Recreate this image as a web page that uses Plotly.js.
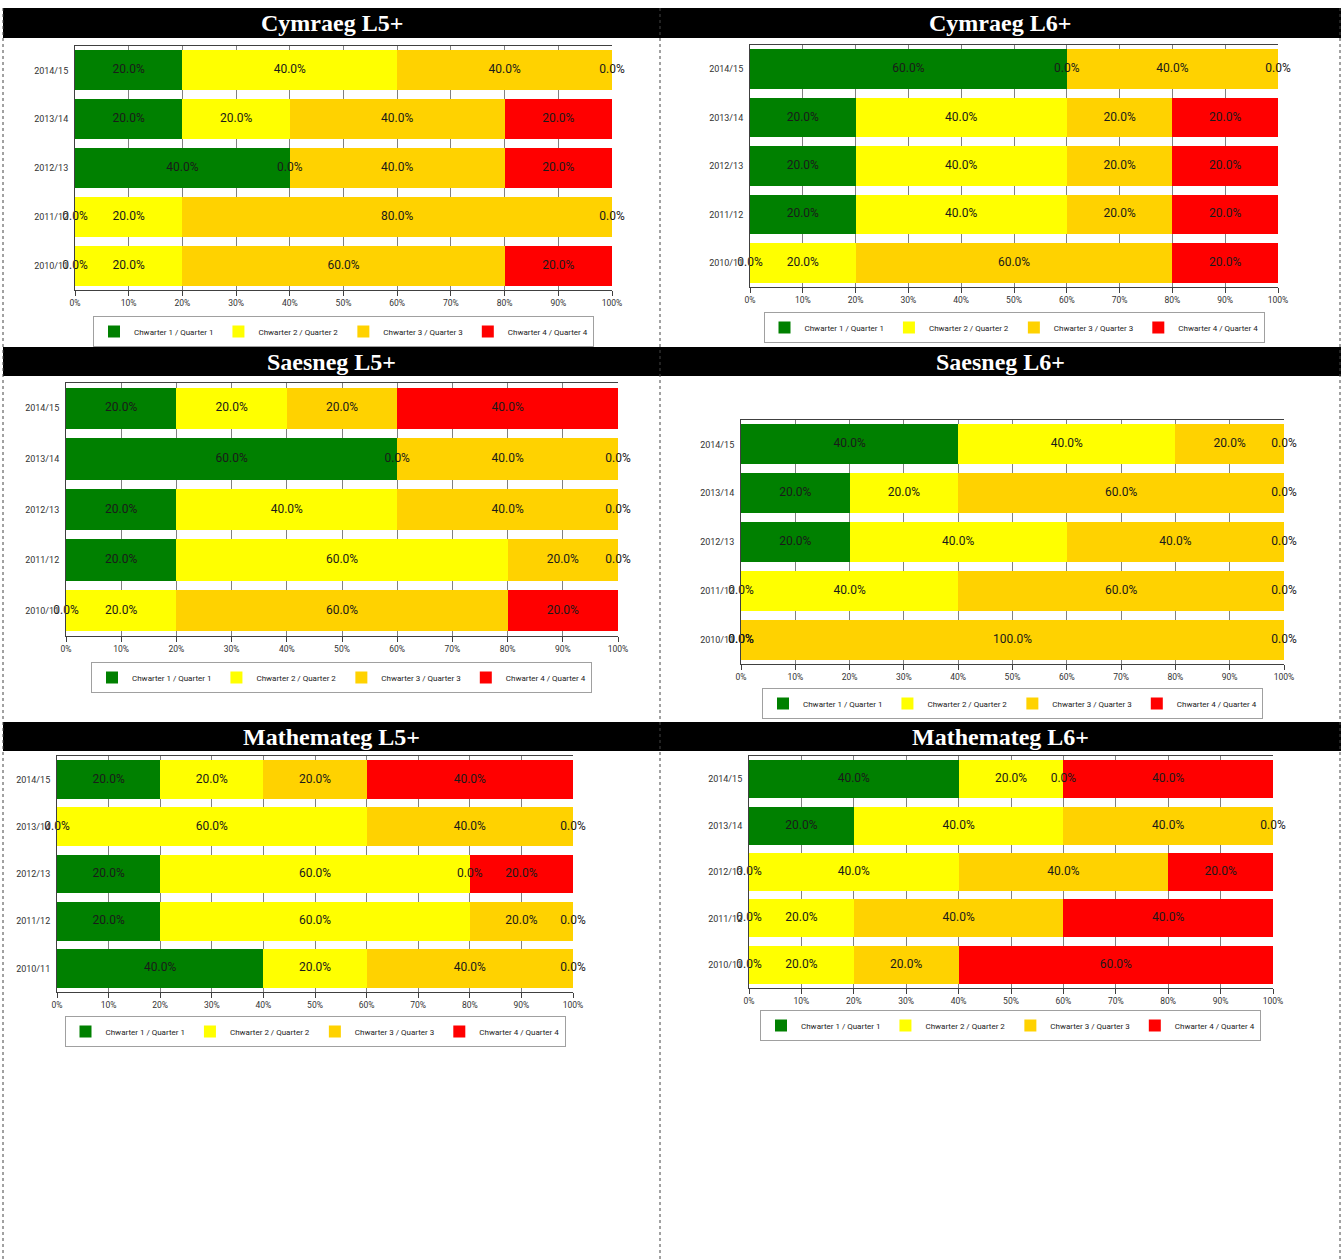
<!DOCTYPE html>
<html><head><meta charset="utf-8">
<script src="https://cdn.plot.ly/plotly-3.0.1.min.js"></script>
<style>html,body{margin:0;padding:0;background:#fff}#chart{width:1342px;height:1259px}</style>
</head><body><div id="chart"></div>
<script>
// ---------- data ----------
const categories = ['2010/11', '2011/12', '2012/13', '2013/14', '2014/15'];
const seriesNames = ['Chwarter 1 / Quarter 1', 'Chwarter 2 / Quarter 2', 'Chwarter 3 / Quarter 3', 'Chwarter 4 / Quarter 4'];
const seriesColors = ['#008000', '#FFFF00', '#FFD200', '#FF0000'];
const panelTitles = ['Cymraeg L5+', 'Cymraeg L6+', 'Saesneg L5+', 'Saesneg L6+', 'Mathemateg L5+', 'Mathemateg L6+'];
const tickValues = [0, 10, 20, 30, 40, 50, 60, 70, 80, 90, 100];
const tickLabels = ['0%', '10%', '20%', '30%', '40%', '50%', '60%', '70%', '80%', '90%', '100%'];

// values listed 2010/11 -> 2014/15
const cymraegL5_q1 = [0, 0, 40, 20, 20];
const cymraegL5_q2 = [20, 20, 0, 20, 40];
const cymraegL5_q3 = [60, 80, 40, 40, 40];
const cymraegL5_q4 = [20, 0, 20, 20, 0];

const cymraegL6_q1 = [0, 20, 20, 20, 60];
const cymraegL6_q2 = [20, 40, 40, 40, 0];
const cymraegL6_q3 = [60, 20, 20, 20, 40];
const cymraegL6_q4 = [20, 20, 20, 20, 0];

const saesnegL5_q1 = [0, 20, 20, 60, 20];
const saesnegL5_q2 = [20, 60, 40, 0, 20];
const saesnegL5_q3 = [60, 20, 40, 40, 20];
const saesnegL5_q4 = [20, 0, 0, 0, 40];

const saesnegL6_q1 = [0, 0, 20, 20, 40];
const saesnegL6_q2 = [0, 40, 40, 20, 40];
const saesnegL6_q3 = [100, 60, 40, 60, 20];
const saesnegL6_q4 = [0, 0, 0, 0, 0];

const mathemategL5_q1 = [40, 20, 20, 0, 20];
const mathemategL5_q2 = [20, 60, 60, 60, 20];
const mathemategL5_q3 = [40, 20, 0, 40, 20];
const mathemategL5_q4 = [0, 0, 20, 0, 40];

const mathemategL6_q1 = [0, 0, 0, 20, 40];
const mathemategL6_q2 = [20, 20, 40, 40, 20];
const mathemategL6_q3 = [20, 40, 40, 40, 0];
const mathemategL6_q4 = [60, 40, 20, 0, 40];

const panelSeries = [
  [cymraegL5_q1, cymraegL5_q2, cymraegL5_q3, cymraegL5_q4],
  [cymraegL6_q1, cymraegL6_q2, cymraegL6_q3, cymraegL6_q4],
  [saesnegL5_q1, saesnegL5_q2, saesnegL5_q3, saesnegL5_q4],
  [saesnegL6_q1, saesnegL6_q2, saesnegL6_q3, saesnegL6_q4],
  [mathemategL5_q1, mathemategL5_q2, mathemategL5_q3, mathemategL5_q4],
  [mathemategL6_q1, mathemategL6_q2, mathemategL6_q3, mathemategL6_q4]
];

// ---------- layout geometry (pixels) ----------
const W = 1342, H = 1259;
const plotBoxes = [ // left, right, top, bottom
  [75, 612, 46, 290],
  [750, 1278, 45, 287],
  [66, 618, 383, 636],
  [741, 1284, 420, 664],
  [57, 573, 756, 992],
  [749, 1273, 756, 988]
];
const legendPos = [ // center x, top y
  [343.5, 316], [1014, 312], [341.5, 662], [1012.5, 688], [315, 1016], [1010.5, 1010]
];
const titleBars = [[8, 38], [347, 376], [722, 751]];
const titleCentersX = [331.5, 1000];

const FONT = '"Liberation Sans Narrow", "Arial Narrow", Roboto, sans-serif';

const traces = [];
const layout = {
  width: W, height: H,
  margin: {l: 0, r: 0, t: 0, b: 0},
  paper_bgcolor: '#ffffff', plot_bgcolor: '#ffffff',
  barmode: 'stack', bargap: 0.18,
  font: {family: FONT, color: '#222'},
  shapes: [], annotations: []
};

panelSeries.forEach((series, p) => {
  const n = p + 1;
  const xa = n === 1 ? 'x' : 'x' + n;
  const ya = n === 1 ? 'y' : 'y' + n;
  const legKey = n === 1 ? 'legend' : 'legend' + n;
  const cum = categories.map(() => 0);
  series.forEach((vals, s) => {
    traces.push({
      type: 'bar', orientation: 'h', x: vals, y: categories,
      name: seriesNames[s], xaxis: xa, yaxis: ya, legend: legKey,
      marker: {color: seriesColors[s], line: {width: 0}},
      hoverinfo: 'skip', showlegend: true
    });
    traces.push({
      type: 'scatter', mode: 'text', xaxis: xa, yaxis: ya,
      x: vals.map((v, i) => cum[i] + v / 2), y: categories,
      text: vals.map(v => v.toFixed(1) + '%'),
      textfont: {size: 12, color: '#1a1a1a', family: FONT},
      textposition: 'middle center', cliponaxis: false,
      hoverinfo: 'skip', showlegend: false
    });
    vals.forEach((v, i) => { cum[i] += v; });
  });

  const [L, R, T, B] = plotBoxes[p];
  layout[n === 1 ? 'xaxis' : 'xaxis' + n] = {
    domain: [L / W, R / W], anchor: ya, range: [0, 100],
    tickmode: 'array', tickvals: tickValues, ticktext: tickLabels,
    ticks: 'outside', ticklen: 5, tickcolor: '#404040',
    showgrid: true, gridcolor: '#808080', gridwidth: 1,
    showline: true, mirror: true, linecolor: '#404040', linewidth: 1,
    zeroline: false, fixedrange: true,
    tickfont: {size: 8.5, color: '#333', family: FONT}
  };
  layout[n === 1 ? 'yaxis' : 'yaxis' + n] = {
    domain: [1 - B / H, 1 - T / H], anchor: xa,
    type: 'category', categoryorder: 'array', categoryarray: categories,
    range: [-0.5, 4.5], showgrid: false, zeroline: false,
    showline: true, linecolor: '#404040', linewidth: 1,
    ticks: '', ticklabelstandoff: 4, fixedrange: true,
    tickfont: {size: 9, color: '#333', family: FONT}
  };
  const [cx, ty] = legendPos[p];
  layout[legKey] = {
    orientation: 'h', traceorder: 'normal',
    x: cx / W, xanchor: 'center', y: 1 - ty / H, yanchor: 'top',
    bgcolor: '#ffffff', bordercolor: '#a0a0a0', borderwidth: 1,
    font: {size: 8, color: '#222', family: FONT},
    itemclick: false, itemdoubleclick: false, tracegroupgap: 0
  };
});

// title bars
titleBars.forEach(([y0, y1], r) => {
  layout.shapes.push({type: 'rect', xref: 'paper', yref: 'paper',
    x0: 3 / W, x1: 1341 / W, y0: 1 - y1 / H, y1: 1 - y0 / H,
    fillcolor: '#000', line: {width: 0}, layer: 'below'});
  titleCentersX.forEach((cx, c) => {
    layout.annotations.push({xref: 'paper', yref: 'paper',
      x: cx / W, y: 1 - ((y0 + y1) / 2) / H, xanchor: 'center', yanchor: 'middle',
      text: '<b>' + panelTitles[r * 2 + c] + '</b>', showarrow: false,
      font: {family: '"Liberation Serif", "Times New Roman", serif', size: 24, color: '#fff'}});
  });
});
// dotted panel borders
[3, 660, 1340].forEach(x => {
  layout.shapes.push({type: 'line', xref: 'paper', yref: 'paper',
    x0: x / W, x1: x / W, y0: 0, y1: 1 - 8 / H,
    line: {color: '#444', width: 1, dash: 'dot'}, layer: 'below'});
});

Plotly.newPlot('chart', traces, layout, {displayModeBar: false, staticPlot: true});
</script>
</body></html>
